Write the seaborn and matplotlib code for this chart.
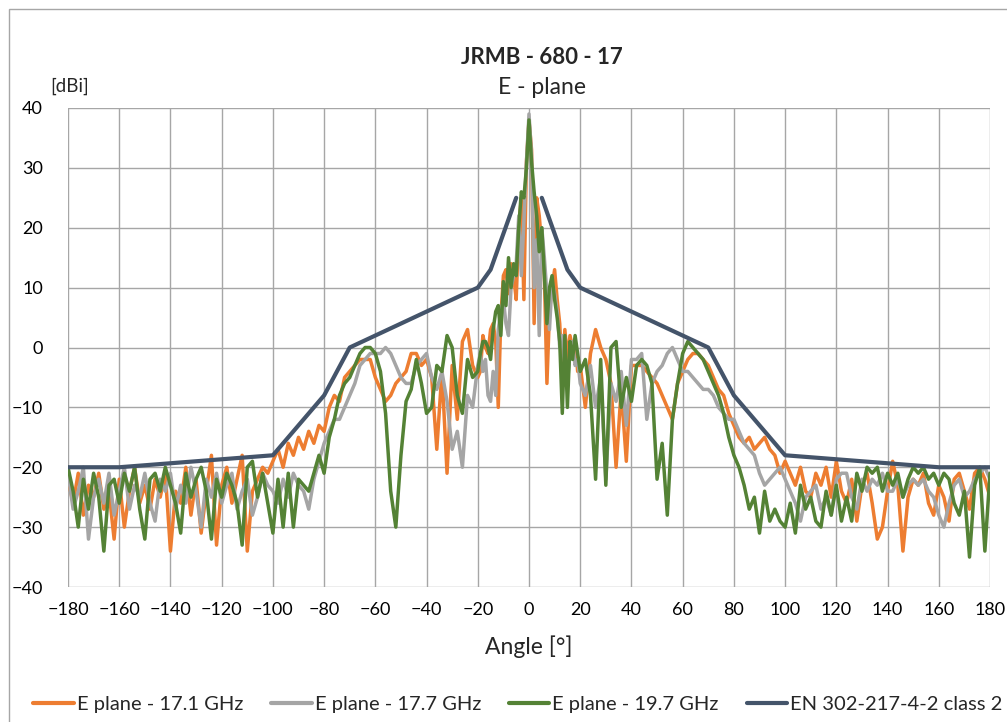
import matplotlib
matplotlib.use("Agg")
import matplotlib.pyplot as plt
import numpy as np
import pandas as pd
import seaborn as sns
from matplotlib.lines import Line2D
from matplotlib.patches import Rectangle

# angle grid: 2 deg steps outside, 1 deg steps around the main lobe
angles = np.concatenate([np.arange(-180, -20, 2), np.arange(-20, 21, 1), np.arange(22, 181, 2)])

e_171 = [
    # -180 .. -22
    -22, -26, -21, -28, -23, -25, -21, -27, -24, -32,
    -22, -30, -24, -20, -26, -23, -27, -22, -25, -21,
    -34, -24, -26, -20, -28, -22, -31, -24, -18, -33,
    -23, -20, -26, -22, -18, -34, -24, -22, -20, -21,
    -19, -17, -20, -16, -18, -15, -17, -14, -16, -13,
    -14, -10, -8, -9, -5, -4, -3, -2, -2, -2,
    -5, -7, -9, -8, -6, -5, -4, -1, -1, -3,
    -2, -5, -17, -4, -21, -3, -12, 1, 3, -3,
    # -20 .. 20
    -5, -4, 2, 0, -1, 3, 4, 1, -10, 5,
    12, 13, 9, 14, 12, 8, 20, 25, 8, 31,
    38,
    33, 4, 25, 22, 17, 12, -6, 6, 10, 13,
    8, 4, -5, 3, -2, 2, 0, 1, -4, -3,
    # 22 .. 180
    -10, -1, 3, 0, -2, -6, -20, -7, -19, -3,
    -3, -3, -4, -5, -6, -8, -10, -12, -6, -4,
    -2, -1, -1, -2, -3, -5, -7, -8, -11, -13,
    -15, -16, -15, -17, -16, -15, -17, -18, -21, -19,
    -21, -23, -20, -24, -25, -21, -23, -20, -25, -19,
    -24, -26, -22, -29, -23, -21, -26, -32, -30, -24,
    -19, -23, -34, -25, -22, -23, -21, -26, -28, -23,
    -25, -29, -22, -21, -24, -27, -21, -20, -22, -25,
]

e_177 = [
    # -180 .. -22
    -21, -27, -24, -20, -32, -25, -22, -26, -21, -28,
    -24, -20, -27, -23, -25, -21, -26, -29, -22, -24,
    -21, -27, -23, -26, -20, -24, -30, -22, -25, -21,
    -26, -23, -21, -27, -24, -22, -28, -25, -21, -23,
    -24, -26, -22, -25, -21, -23, -24, -27, -22, -19,
    -16, -14, -12, -12, -10, -8, -6, -3, -2, -1,
    -1, -1, 0, -1, -3, -5, -6, -6, -3, -2,
    -1, -5, -7, -4, -9, -17, -14, -20, -8, -10,
    # -20 .. 20
    -3, -1, -4, -2, -8, -9, -4, -8, 3, 6,
    8, 4, 2, 10, 12, 14, 22, 12, 21, 31,
    39,
    32, 10, 18, 2, 20, 15, 9, 3, 11, 9,
    6, 0, 2, -4, -6, -1, 1, -3, -2, -6,
    # 22 .. 180
    -8, -3, -10, -5, -22, -6, -9, -4, -13, -2,
    -2, -1, -12, -6, -4, -3, -1, 0, -2, -4,
    -4, -5, -6, -7, -7, -8, -10, -11, -12, -12,
    -14, -16, -17, -18, -21, -23, -22, -21, -20, -22,
    -24, -26, -29, -25, -24, -23, -27, -25, -28, -22,
    -21, -21, -25, -27, -22, -24, -22, -23, -21, -24,
    -24, -22, -25, -23, -22, -23, -22, -24, -25, -28,
    -30, -26, -23, -22, -25, -24, -22, -21, -20, -22,
]

e_197 = [
    # -180 .. -22
    -20, -24, -30, -22, -27, -21, -25, -34, -23, -22,
    -26, -21, -24, -20, -27, -32, -22, -21, -24, -20,
    -23, -26, -31, -21, -25, -22, -20, -24, -32, -22,
    -25, -21, -23, -26, -33, -20, -19, -25, -21, -26,
    -31, -22, -30, -21, -30, -22, -23, -24, -21, -18,
    -21, -15, -12, -8, -6, -5, -3, -1, 0, 0,
    -1, -4, -11, -24, -30, -18, -9, -7, -2, -6,
    -11, -10, -3, -4, 2, 0, -8, -11, -2, -5,
    # -20 .. 20
    -4, -1, 1, 1, 0, -2, 3, 6, 7, 2,
    11, 7, 15, 10, 14, 12, 20, 26, 25, 30,
    38,
    31, 26, 22, 16, 20, 12, 4, 10, 12, 8,
    5, 1, -11, 2, -10, 1, -2, 2, -1, -4,
    # 22 .. 180
    -2, -8, -22, -2, -23, 0, 1, -10, -5, -9,
    -3, -2, -3, -6, -22, -16, -28, -12, -6, -1,
    1, 0, -1, -2, -4, -6, -8, -11, -15, -18,
    -20, -23, -27, -25, -31, -24, -29, -27, -29, -30,
    -26, -31, -23, -27, -25, -29, -30, -24, -28, -23,
    -29, -25, -29, -21, -24, -20, -21, -20, -24, -21,
    -23, -21, -25, -22, -20, -21, -20, -22, -21, -23,
    -21, -22, -26, -28, -24, -35, -23, -20, -34, -21,
]

# EN 302-217-4-2 class 2 mask, two branches (gap around boresight)
mask_left_x = [-180, -160, -100, -80, -70, -20, -15, -5]
mask_left_y = [-20, -20, -18, -8, 0, 10, 13, 25]
mask_right_x = [5, 15, 20, 70, 80, 100, 160, 180]
mask_right_y = [25, 13, 10, 0, -8, -18, -20, -20]

labels = ["E plane - 17.1 GHz", "E plane - 17.7 GHz", "E plane - 19.7 GHz", "EN 302-217-4-2 class 2"]
colors = ["#ED7D31", "#A5A5A5", "#548235", "#44546A"]

df = pd.DataFrame({
    "angle": np.tile(angles, 3),
    "gain": e_171 + e_177 + e_197,
    "series": [labels[0]] * len(angles) + [labels[1]] * len(angles) + [labels[2]] * len(angles),
})
mask_df = pd.DataFrame({
    "angle": mask_left_x + mask_right_x,
    "gain": mask_left_y + mask_right_y,
    "seg": ["l"] * len(mask_left_x) + ["r"] * len(mask_right_x),
})

sns.set_style("white")
plt.rcParams["font.family"] = ["Lato", "DejaVu Sans"]

fig = plt.figure(figsize=(10.07, 7.22), dpi=100)
ax = fig.add_axes([68 / 1007, 1 - 587 / 722, 922 / 1007, 479 / 722])

sns.lineplot(data=df, x="angle", y="gain", hue="series", hue_order=labels[:3],
             palette=colors[:3], linewidth=2.5, ax=ax, legend=False)
sns.lineplot(data=mask_df, x="angle", y="gain", units="seg", estimator=None,
             color=colors[3], linewidth=3.0, ax=ax, legend=False)

ax.set_xlim(-180, 180)
ax.set_ylim(-40, 40)
ax.set_xticks(range(-180, 181, 20))
ax.set_yticks(range(-40, 41, 10))
ax.grid(True, color="#A6A6A6", linewidth=1)
ax.set_axisbelow(True)
for s in ax.spines.values():
    s.set_visible(False)
ax.tick_params(length=0, labelsize=13, colors="#000000")
ax.tick_params(axis="x", pad=11)
ax.tick_params(axis="y", pad=18)
ax.set_xlabel("Angle [°]", fontsize=16.5, labelpad=12)
ax.set_ylabel("")

fig.text(542 / 1007, 1 - 58 / 722, "JRMB - 680 - 17", ha="center", va="center",
         fontsize=16, fontweight="bold")
fig.text(542 / 1007, 1 - 88 / 722, "E - plane", ha="center", va="center", fontsize=16.5)
fig.text(50 / 1007, 1 - 86 / 722, "[dBi]", ha="left", va="center", fontsize=13.5)

handles = [Line2D([0], [0], color=c, linewidth=3.0) for c in colors]
fig.legend(handles, labels, loc="center", bbox_to_anchor=(518 / 1007, 1 - 704 / 722), ncol=4,
           frameon=False, fontsize=14.5, handlelength=2.0, handletextpad=0.15, columnspacing=1.4)

fig.patches.append(Rectangle((9 / 1007, -0.1), 1.1, 1.1 - 9 / 722, transform=fig.transFigure,
                             fill=False, edgecolor="#A6A6A6", linewidth=1))

fig.savefig("out.png", dpi=100)
